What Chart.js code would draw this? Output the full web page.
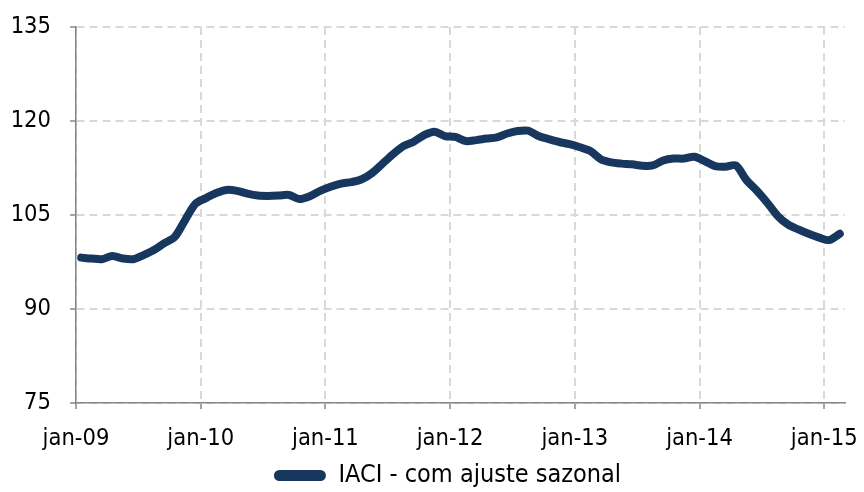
<!DOCTYPE html>
<html>
<head>
<meta charset="utf-8">
<script src="https://cdn.jsdelivr.net/npm/chart.js@4.4.1/dist/chart.umd.min.js"></script>
<style>
    html, body { margin: 0; padding: 0; background: #ffffff; }
    #wrap { width: 864px; height: 492px; position: relative; }
</style>
</head>
<body>
<div id="wrap"><canvas id="iaciChart" width="864" height="492"></canvas></div>
<script>
const seriesLabel = 'IACI - com ajuste sazonal';

// monthly values, jan-09 .. feb-15
const values2009 = [98.2, 98.05, 97.95, 98.45, 98.05, 97.95, 98.6, 99.4, 100.5, 101.5, 104.2, 106.8];
const values2010 = [107.7, 108.5, 109.0, 108.85, 108.4, 108.1, 108.05, 108.1, 108.2, 107.55, 108.0, 108.85];
const values2011 = [109.5, 110.0, 110.25, 110.7, 111.7, 113.2, 114.7, 116.0, 116.7, 117.75, 118.3, 117.6];
const values2012 = [117.45, 116.8, 116.95, 117.2, 117.4, 118.0, 118.4, 118.45, 117.6, 117.1, 116.65, 116.3];
const values2013 = [115.8, 115.2, 113.9, 113.4, 113.2, 113.1, 112.85, 112.9, 113.7, 114.0, 114.0, 114.3];
const values2014 = [113.6, 112.8, 112.7, 112.9, 110.6, 108.9, 107.0, 104.9, 103.5, 102.7, 102.0, 101.4];
const values2015 = [101.0, 102.0];

const xTickLabels = ['jan-09', 'jan-10', 'jan-11', 'jan-12', 'jan-13', 'jan-14', 'jan-15'];
const yTicks = [75, 90, 105, 120, 135];

const NAVY = '#17375e';
const FONT = "'DejaVu Sans Condensed', 'DejaVu Sans', sans-serif";

const allValues = [].concat(values2009, values2010, values2011, values2012, values2013, values2014, values2015);
// each month sits in the middle of its slot on the date axis
const points = allValues.map((v, i) => ({ x: i + 0.5, y: v }));

const gridOpts = {
    color: '#d9d9d9',
    lineWidth: 2,
    tickColor: '#868686',
    tickWidth: 1.5,
    tickLength: 6,
    tickBorderDash: []
};
const borderOpts = { display: true, color: '#868686', width: 1.5, dash: [8, 5] };

const noScalePadding = (scale) => {
    scale.paddingLeft = 0;
    scale.paddingRight = 0;
    scale.paddingTop = 0;
    scale.paddingBottom = 0;
};

// legend is centred a bit right of the canvas middle in the original
const legendShift = {
    id: 'legendShift',
    afterLayout: (chart) => {
        if (chart.legend) {
            chart.legend.left += 25;
            chart.legend.right += 25;
        }
    }
};

new Chart(document.getElementById('iaciChart').getContext('2d'), {
    type: 'line',
    data: {
        datasets: [{
            label: seriesLabel,
            data: points,
            borderColor: NAVY,
            backgroundColor: NAVY,
            borderWidth: 8,
            borderCapStyle: 'round',
            borderJoinStyle: 'round',
            pointRadius: 0,
            tension: 0.3,
            fill: false
        }]
    },
    options: {
        responsive: false,
        animation: false,
        layout: {
            autoPadding: false,
            padding: { left: 0, right: 19, top: 27, bottom: -6 }
        },
        plugins: {
            tooltip: { enabled: false },
            legend: {
                position: 'bottom',
                labels: {
                    color: '#000000',
                    font: { family: FONT, size: 25 },
                    boxWidth: 52,
                    boxHeight: 11,
                    useBorderRadius: true,
                    borderRadius: 5.5,
                    padding: 0,
                    generateLabels: () => [{
                        text: seriesLabel,
                        fillStyle: NAVY,
                        strokeStyle: NAVY,
                        lineWidth: 0,
                        datasetIndex: 0,
                        borderRadius: 5.5
                    }]
                }
            }
        },
        scales: {
            x: {
                type: 'linear',
                min: 0,
                max: 74,
                afterFit: (scale) => {
                    scale.height = 60;
                    noScalePadding(scale);
                },
                afterBuildTicks: (scale) => {
                    scale.ticks = xTickLabels.map((_, i) => ({ value: i * 12 }));
                },
                ticks: {
                    color: '#000000',
                    font: { family: FONT, size: 23.5 },
                    padding: 16,
                    maxRotation: 0,
                    autoSkip: false,
                    callback: (value) => xTickLabels[Math.round(value / 12)]
                },
                grid: gridOpts,
                border: borderOpts
            },
            y: {
                min: 75,
                max: 135,
                afterFit: (scale) => {
                    scale.width = 76;
                    noScalePadding(scale);
                },
                afterBuildTicks: (scale) => {
                    scale.ticks = yTicks.map((v) => ({ value: v }));
                },
                ticks: {
                    color: '#000000',
                    font: { family: FONT, size: 23.5 },
                    padding: 19
                },
                grid: gridOpts,
                border: borderOpts
            }
        }
    },
    plugins: [legendShift]
});
</script>
</body>
</html>
